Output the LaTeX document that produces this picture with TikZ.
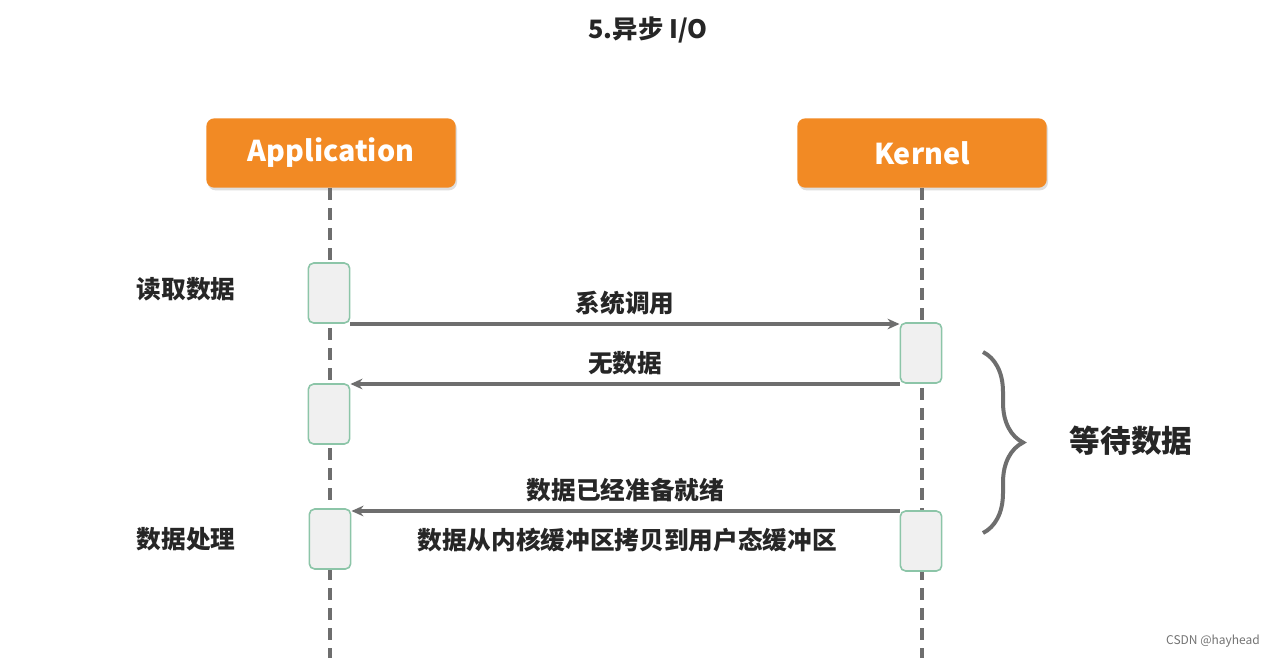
\documentclass[tikz,border=0pt]{standalone}
\usepackage{fontspec}
\setmainfont{Noto Sans CJK SC}
\usetikzlibrary{arrows.meta,decorations.pathreplacing,shadows}
\definecolor{org}{HTML}{F28A24}
\definecolor{lg}{HTML}{6E6E6E}
\definecolor{actb}{HTML}{8CC5A8}
\tikzset{
 actor/.style={rectangle,rounded corners=6pt,fill=org,minimum width=187pt,minimum height=52pt,text=white,font=\bfseries\fontsize{21.5}{24}\selectfont,drop shadow={opacity=0.25,shadow xshift=1pt,shadow yshift=-2pt}},
 act/.style={rectangle,rounded corners=4pt,fill=black!6,draw=actb,line width=1.2pt,minimum width=31pt,minimum height=45pt,inner sep=0pt},
 life/.style={lg,line width=3pt,dash pattern=on 9pt off 6pt},
 msg/.style={lg,line width=2.5pt,-{Stealth[length=9pt,width=8pt]}},
 lbl/.style={font=\bfseries\fontsize{18.5}{20}\selectfont,text=black!85},
}
\begin{document}
\begin{tikzpicture}[x=0.75pt,y=-0.75pt]
\useasboundingbox (0,0) rectangle (1277,658);
\fill[white] (0,0) rectangle (1277,658);
\node[lbl,font=\bfseries\fontsize{19}{21}\selectfont] (title) at (648,30) {5.异步 I/O};
\node[actor] (app) at (331,153) {Application};
\node[actor] (ker) at (922,153) {Kernel};
\coordinate (append) at (330,658);
\coordinate (kerend) at (922,658);
\draw[life] (330,188) -- (append);
\draw[life] (922,188) -- (kerend);
\node[act] (a1) at (329,293) {};
\node[act] (a2) at (329,414) {};
\node[act] (a3) at (330,539) {};
\node[act] (k1) at (921,353) {};
\node[act] (k2) at (921,541) {};
\draw[msg] (a1.east |- 0,324) -- node[lbl,above=2pt]{系统调用} (k1.west |- 0,324);
\draw[msg] (k1.west |- 0,384) -- node[lbl,above=2pt]{无数据} (a2.east |- 0,384);
\draw[msg] (k2.west |- 0,511) -- node[lbl,above=2pt]{数据已经准备就绪} (a3.east |- 0,511);
\node[lbl] (copy) at (627,540) {数据从内核缓冲区拷贝到用户态缓冲区};
\node[lbl] (read) at (186,289) {读取数据};
\node[lbl] (proc) at (186,539) {数据处理};
\draw[lg,line width=3pt,decorate,decoration={brace,amplitude=30pt}] (983,352) -- (983,533);
\node[lbl,font=\bfseries\fontsize{23}{25}\selectfont] (wait) at (1131,441) {等待数据};
\node[font=\fontsize{9}{10}\selectfont,text=black!55] (csdn) at (1213,641) {CSDN @hayhead};
\end{tikzpicture}
\end{document}
